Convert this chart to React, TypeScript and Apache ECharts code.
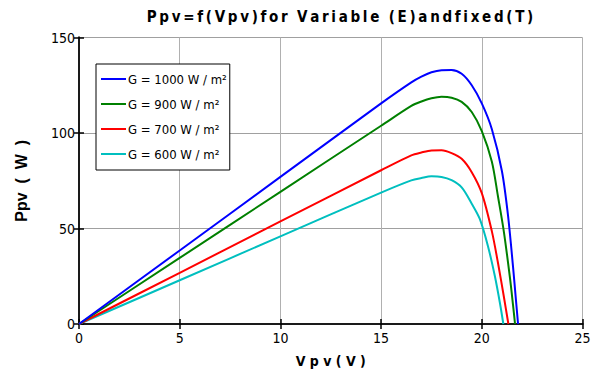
import React, { useEffect, useRef } from "react";
import * as echarts from "echarts";

const seriesNames = ["G = 1000 W / m²", "G = 900 W / m²", "G = 700 W / m²", "G = 600 W / m²"];
const seriesColors = ["#0000ff", "#008000", "#ff0000", "#00bfbf"];

const v1000 = [0, 5, 10, 15, 16.5, 17.0, 17.5, 18.0, 18.5, 19.0, 19.5, 20.0, 20.5, 21.0, 21.3, 21.55, 21.7, 21.8];
const p1000 = [0, 38.5, 77, 115.5, 126.5, 129.5, 131.8, 132.9, 133, 131, 125, 115.5, 102, 80, 57, 30, 12, 0];

const v900 = [0, 5, 10, 15, 16.5, 17, 17.5, 18, 18.5, 19, 19.5, 20, 20.5, 20.8, 21.1, 21.4, 21.55, 21.65];
const p900 = [0, 34.6, 69.2, 103.8, 114.2, 116.5, 118.2, 119, 118.5, 116.3, 111, 101, 85, 67, 48, 24, 10, 0];

const v700 = [0, 5, 10, 15, 16.5, 17, 17.5, 18, 18.5, 19, 19.5, 20, 20.5, 20.8, 21.1, 21.32];
const p700 = [0, 26.8, 53.7, 80.5, 88.3, 89.8, 90.9, 91, 89.5, 86.5, 79.5, 68.5, 48.5, 32.2, 14, 0];

const v600 = [0, 5, 10, 15, 16.5, 17, 17.5, 18, 18.5, 19, 19.5, 19.9, 20.3, 20.65, 20.9, 21.07];
const p600 = [0, 22.9, 45.9, 68.8, 75.2, 76.4, 77.3, 77, 75.3, 71.5, 63, 55, 41, 25, 11, 0];

const xTicks = [0, 5, 10, 15, 20, 25];
const yTicks = [0, 50, 100, 150];

const spaced = (s: string) => s.split(" ").map((w) => w.split("").join("\u2009")).join("  ");
const titleText = spaced("Ppv=f(Vpv)for Variable (E)andfixed(T)");
const xName = "V p v ( V )";
const yName = "Ppv  (  W  )";

const narrow = '"DejaVu Sans Condensed", "Liberation Sans Narrow", sans-serif';

export default function App() {
  const ref = useRef<HTMLDivElement>(null);
  useEffect(() => {
    if (!ref.current) return;
    const chart = echarts.init(ref.current, undefined, { renderer: "svg" });
    const vs = [v1000, v900, v700, v600];
    const ps = [p1000, p900, p700, p600];
    const tickFont = { fontFamily: narrow, fontSize: 14, color: "#000" };
    const axisCommon = {
      type: "value" as const,
      axisLine: { show: true, lineStyle: { color: "#1a1a1a", width: 2 } },
      axisTick: { show: true, inside: true, length: 5, lineStyle: { color: "#000", width: 1.5 } },
      splitLine: { show: false },
    };
    chart.setOption({
      animation: false,
      backgroundColor: "#fff",
      title: {
        text: titleText,
        left: 335,
        top: 4,
        textAlign: "center",
        textStyle: { fontFamily: narrow, fontWeight: "bold", fontSize: 15, color: "#000" },
      },
      grid: { left: 79, right: 22.5, top: 37.5, bottom: 52, containLabel: false },
      legend: {
        orient: "vertical",
        left: 96,
        top: 64,
        padding: [8, 3, 9, 5],
        icon: "rect",
        itemWidth: 25,
        itemHeight: 2,
        itemGap: 11,
        borderColor: "#000",
        borderWidth: 1,
        backgroundColor: "#fff",
        data: seriesNames,
        textStyle: { fontFamily: narrow, fontSize: 13, lineHeight: 14, color: "#000", padding: [0, 0, 0, -3] },
      },
      xAxis: [
        {
          ...axisCommon,
          min: 0,
          max: 25,
          interval: 5,
          position: "bottom",
          axisLabel: { ...tickFont, margin: 7, formatter: (v: number) => (xTicks.includes(v) ? String(v) : "") },
          splitLine: { show: true, lineStyle: { color: "#b0b0b0", width: 1 } },
          name: xName,
          nameLocation: "middle",
          nameGap: 30,
          nameTextStyle: { fontFamily: narrow, fontWeight: "bold", fontSize: 14, color: "#000" },
        },
        {
          ...axisCommon,
          min: 0,
          max: 25,
          interval: 5,
          position: "top",
          axisLabel: { show: false },
        },
      ],
      yAxis: [
        {
          ...axisCommon,
          min: 0,
          max: 150,
          interval: 50,
          position: "left",
          axisLabel: { ...tickFont, margin: 4, formatter: (v: number) => (yTicks.includes(v) ? String(v) : "") },
          splitLine: { show: true, lineStyle: { color: "#a0a0a0", width: 1 } },
          name: yName,
          nameLocation: "middle",
          nameGap: 50,
          nameRotate: 90,
          nameTextStyle: { fontFamily: '"Liberation Sans", Arial, sans-serif', fontWeight: "bold", fontSize: 16, color: "#000" },
        },
        {
          ...axisCommon,
          min: 0,
          max: 150,
          interval: 50,
          position: "right",
          axisLabel: { show: false },
        },
      ],
      series: seriesNames.map((name, i) => ({
        name,
        type: "line",
        xAxisIndex: 0,
        yAxisIndex: 0,
        symbol: "none",
        showSymbol: false,
        smooth: 0.3,
        data: vs[i].map((v, j) => [v, ps[i][j]]),
        lineStyle: { color: seriesColors[i], width: 2 },
        itemStyle: { color: seriesColors[i] },
        z: 10 - i,
      })),
    });
    return () => chart.dispose();
  }, []);
  return <div ref={ref} style={{ position: "fixed", left: 0, top: 0, width: 605, height: 376 }} />;
}
